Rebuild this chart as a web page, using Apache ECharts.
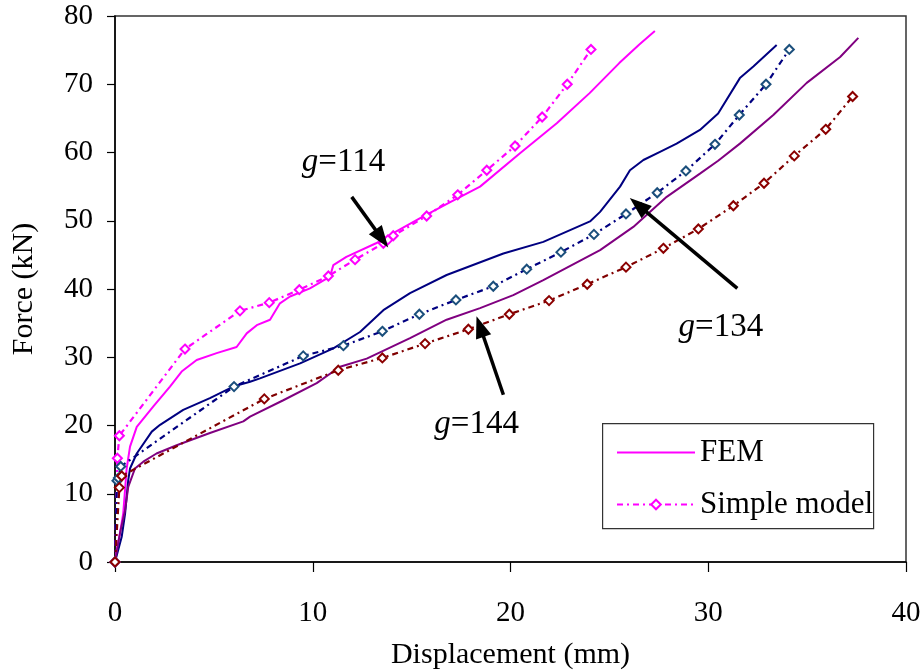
<!DOCTYPE html>
<html>
<head>
<meta charset="utf-8">
<script src="https://cdn.jsdelivr.net/npm/echarts@6/dist/echarts.min.js"></script>
<style>
  html, body { margin: 0; padding: 0; background: #fff; }
  #chart { width: 924px; height: 670px; }
</style>
</head>
<body>
<div id="chart"></div>
<script>
// Force–displacement curves: FEM results vs simple model for three g values.
// Each point is [displacement (mm), force (kN)].

const fem114 = [[0,0],[0.1,2],[0.25,4.2],[0.42,7.2],[0.59,13.7],[0.76,16.9],[1.1,19.8],[1.94,22.8],
  [2.78,25.7],[3.37,27.9],[4.13,29.6],[5.14,30.6],[6.15,31.5],[6.66,33.5],[7.17,34.7],[7.84,35.5],
  [8.34,37.9],[8.85,38.9],[9.86,40.1],[10.87,41.8],[11.04,43.5],[11.7,44.7],[13.2,46.7],[14.07,48.2],
  [15.5,50.5],[17.0,52.8],[18.46,55.0],[20.48,59.9],[22.34,64.3],[24.0,68.7],[25.5,73.1],[26.5,75.8],[27.3,77.8]];
const simple114 = [[0,0],[0.12,15.2],[0.22,18.5],[3.54,31.2],[6.32,36.8],[7.8,38.0],[9.32,39.9],
  [10.79,41.9],[12.14,44.3],[13.57,46.7],[13.8,47.2],[14.07,47.8],[15.76,50.7],[17.33,53.8],
  [18.8,57.4],[20.23,60.95],[21.6,65.2],[22.87,70.0],[24.07,75.1]];

const fem134 = [[0,0],[0.34,3.7],[0.51,7.1],[0.67,12],[0.76,13.7],[1.1,15.9],[1.86,19.1],[2.28,20.1],
  [3.45,22.3],[4.8,24.0],[5.98,25.7],[6.83,26.4],[7.33,26.9],[9.36,29.1],[11.04,31.3],[12.39,33.7],
  [13.57,36.9],[14.92,39.4],[16.77,42.05],[19.64,45.2],[21.66,46.9],[24.02,49.9],[24.53,51.3],
  [25.54,55.0],[26.04,57.4],[26.72,58.9],[27.56,60.1],[28.4,61.3],[29.58,63.3],[30.5,65.7],
  [31.6,70.9],[32.28,72.6],[33.46,75.75]];
const simple134 = [[0,0],[0.1,11.9],[0.17,12.3],[0.29,14],[6.02,25.7],[9.52,30.2],[11.55,31.7],
  [13.52,33.8],[15.39,36.3],[17.24,38.4],[19.13,40.4],[20.82,42.9],[22.55,45.4],[24.22,48.0],
  [25.84,51.0],[27.42,54.1],[28.87,57.3],[30.34,61.2],[31.57,65.5],[32.92,70.0],[34.1,75.1]];

const fem144 = [[0,0],[0.25,4.2],[0.51,7.6],[0.67,11],[1.01,13.7],[1.43,14.7],[2.1,15.9],[3.12,17.1],
  [4.8,18.9],[6.49,20.6],[6.83,21.3],[8.51,23.7],[10.2,26.2],[11.38,28.6],[12.73,29.8],[14.92,32.8],
  [16.77,35.5],[18.46,37.2],[20.14,39.1],[21.66,41.3],[24.53,45.7],[26.21,49.1],[27.9,53.5],
  [29.58,56.9],[30.5,58.8],[31.6,61.3],[33.29,65.5],[34.98,70.2],[36.67,74.0],[37.59,76.8]];
const simple144 = [[0,0],[0.22,10.9],[0.34,12.6],[7.55,23.9],[11.29,28.1],[13.52,29.9],[15.68,32.0],
  [17.87,34.1],[19.94,36.3],[21.95,38.3],[23.88,40.7],[25.84,43.2],[27.73,45.96],[29.5,48.8],
  [31.27,52.2],[32.82,55.5],[34.35,59.5],[35.94,63.4],[37.3,68.2]];

// Annotation text ("g=…"), where each label sits, and its pointer arrow.
const noteValues = ['114', '134', '144'];
const noteAt = [[9.45, 58.6], [28.5, 34.4], [16.15, 20.2]];
const arrowFrom = [[11.97, 53.5], [31.47, 40.1], [19.64, 24.5]];
const arrowTo = [[13.49, 47.4], [26.46, 52.3], [18.46, 34.5]];

const xTicks = { min: 0, max: 40, interval: 10 };
const yTicks = { min: 0, max: 80, interval: 10 };

const FONT = 'Liberation Serif';

function femSeries(name, data, color) {
  return {
    name: name, type: 'line', data: data,
    symbol: 'none', showSymbol: false,
    lineStyle: { color: color, width: 2 },
    itemStyle: { color: color },
    animation: false, silent: true
  };
}
function simpleSeries(name, data, lineColor, markerColor) {
  return {
    name: name, type: 'line', data: data,
    symbol: 'emptyDiamond', symbolSize: 9, showAllSymbol: true,
    lineStyle: { color: lineColor, width: 2.2, type: [6, 4, 2, 4] },
    itemStyle: { color: markerColor, borderWidth: 2 },
    animation: false, silent: true
  };
}

const chart = echarts.init(document.getElementById('chart'), null, { renderer: 'canvas' });

const series = [
  femSeries('FEM', fem114, '#FF00FF'),
  simpleSeries('Simple model', simple114, '#FF00FF', '#FF00FF'),
  femSeries('FEM g=134', fem134, '#000080'),
  simpleSeries('Simple model g=134', simple134, '#000080', '#1B4F7C'),
  femSeries('FEM g=144', fem144, '#800080'),
  simpleSeries('Simple model g=144', simple144, '#800000', '#8B0000'),
  {
    name: 'arrows', type: 'line', data: [], silent: true, animation: false,
    markLine: {
      silent: true, animation: false,
      symbol: ['none', 'triangle'], symbolSize: [16, 22],
      label: { show: false },
      lineStyle: { color: '#000', width: 3.5, type: 'solid', opacity: 1 },
      data: arrowFrom.map((p, i) => [{ coord: p }, { coord: arrowTo[i] }])
    }
  },
  {
    name: 'notes', type: 'scatter', silent: true, animation: false,
    symbolSize: 0,
    itemStyle: { opacity: 1 },
    data: noteAt.map((p, i) => ({ value: p, text: noteValues[i] })),
    label: {
      show: true, position: 'right', distance: 0,
      fontFamily: FONT, fontSize: 33, color: '#000', opacity: 1,
      formatter: p => '{g|g}=' + p.data.text,
      rich: { g: { fontFamily: FONT, fontSize: 33, fontStyle: 'italic', color: '#000' } }
    }
  }
];

chart.setOption({
  backgroundColor: '#fff',
  animation: false,
  grid: {
    left: 115, top: 16, right: 18, bottom: 108,
    outerBoundsMode: 'none', containLabel: false,
    show: true, borderColor: '#333', borderWidth: 1.5, backgroundColor: 'transparent'
  },
  // Framed white box behind the legend entries
  graphic: [{
    type: 'rect', left: 602, top: 423, z: 3, silent: true,
    shape: { width: 271, height: 105 },
    style: { fill: '#ffffff', stroke: '#333333', lineWidth: 1.2 }
  }],
  legend: {
    orient: 'vertical', left: 602, top: 423, z: 5,
    padding: [14, 1, 10, 14],
    borderWidth: 0, backgroundColor: 'transparent',
    itemWidth: 78, itemHeight: 12, itemGap: 21,
    selectedMode: false,
    textStyle: { fontFamily: FONT, fontSize: 31, color: '#000' },
    data: [
      { name: 'FEM', itemStyle: { opacity: 0 } },
      { name: 'Simple model' }
    ]
  },
  xAxis: {
    type: 'value', min: xTicks.min, max: xTicks.max, interval: xTicks.interval,
    name: 'Displacement (mm)', nameLocation: 'middle', nameGap: 78,
    nameTextStyle: { fontFamily: FONT, fontSize: 30, color: '#000' },
    axisLine: { show: true, onZero: false, lineStyle: { color: '#000', width: 1.5 } },
    axisTick: { show: true, inside: false, length: 10, lineStyle: { color: '#000', width: 1.2 } },
    axisLabel: { margin: 37, fontFamily: FONT, fontSize: 29, color: '#000' },
    splitLine: { show: false }
  },
  yAxis: {
    type: 'value', min: yTicks.min, max: yTicks.max, interval: yTicks.interval,
    name: 'Force (kN)', nameLocation: 'middle', nameGap: 76, nameRotate: 90,
    nameTextStyle: { fontFamily: FONT, fontSize: 30, color: '#000' },
    axisLine: { show: true, onZero: false, lineStyle: { color: '#000', width: 1.5 } },
    axisTick: { show: true, inside: false, length: 8, lineStyle: { color: '#000', width: 1.2 } },
    axisLabel: { margin: 22, fontFamily: FONT, fontSize: 29, color: '#000' },
    splitLine: { show: false }
  },
  series: series
});
</script>
</body>
</html>
